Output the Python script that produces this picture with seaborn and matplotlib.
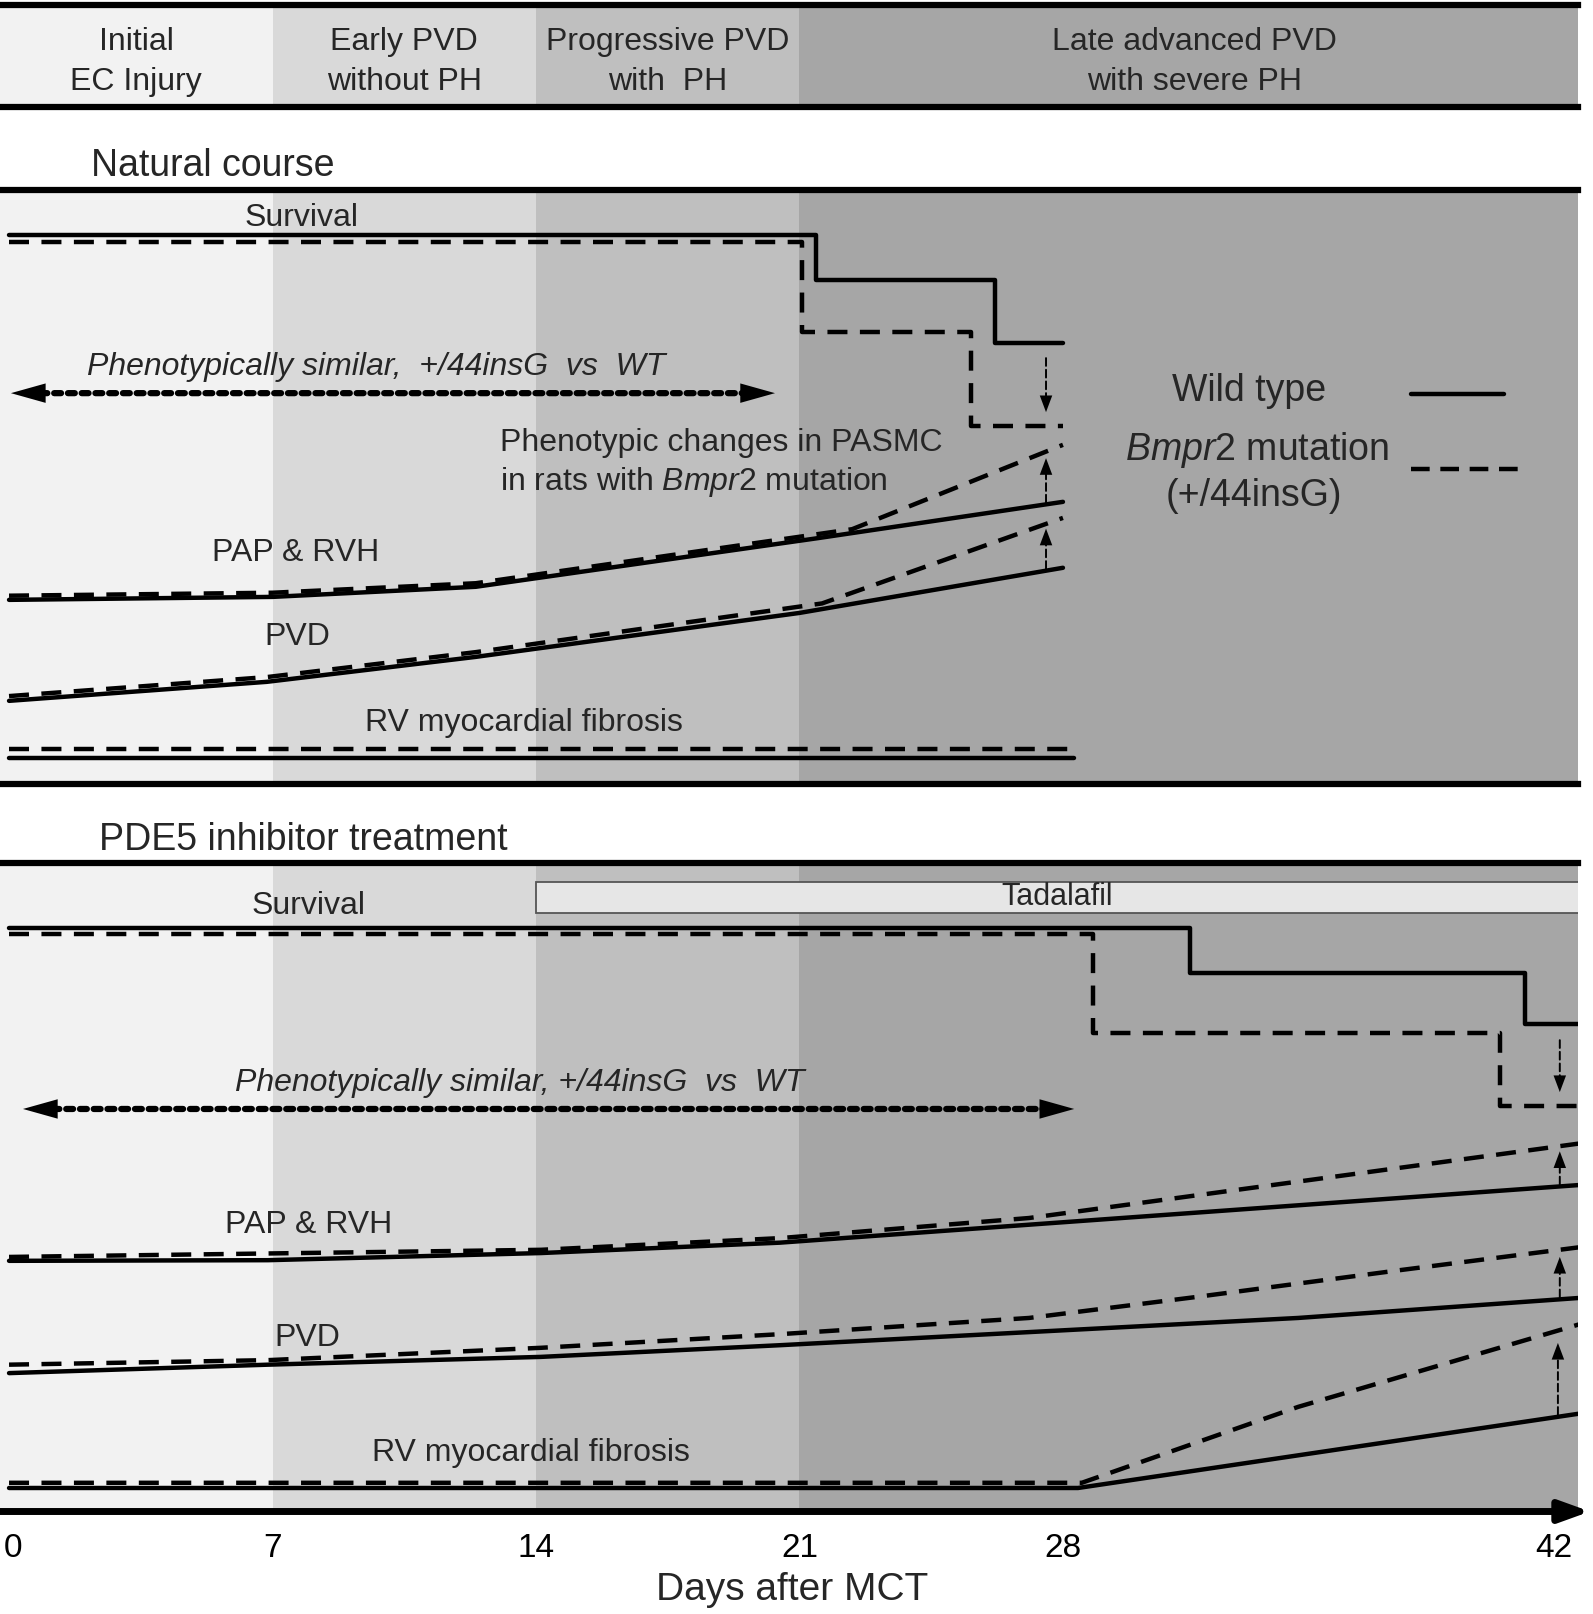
import numpy as np
import pandas as pd
import matplotlib
matplotlib.use("Agg")
import matplotlib.pyplot as plt
import matplotlib.transforms as mtransforms
from matplotlib.lines import Line2D
import seaborn as sns

sns.set_style("white")
plt.rcParams["font.family"] = ["Liberation Sans", "DejaVu Sans"]
plt.rcParams["mathtext.fontset"] = "custom"
plt.rcParams["mathtext.rm"] = "Liberation Sans"
plt.rcParams["mathtext.it"] = "Liberation Sans:italic"

# ---------------- data ----------------
phase_edges = [-0.24, 7, 14, 21, 42]
phase_colors = ["#f2f2f2", "#d9d9d9", "#bfbfbf", "#a6a6a6"]
phase_labels = ["Initial\nEC Injury", "Early PVD\nwithout PH",
                "Progressive PVD\nwith  PH", "Late advanced PVD\nwith severe PH"]
day_ticks = [0, 7, 14, 21, 28, 42]

# Natural course (relative level 0-100)
nat_surv_days_wt = [0, 21.44, 26.2, 28]
nat_surv_wt = [92.4, 84.9, 74.2, 74.2]
nat_surv_days_mut = [0, 21.07, 25.56, 28]
nat_surv_mut = [91.3, 76.1, 60.3, 60.3]

nat_pap_days_wt = [0, 7, 12.4, 21.5, 28]
nat_pap_wt = [31.0, 31.5, 33.2, 41.4, 47.5]
nat_pap_days_mut = [0, 7, 12.4, 22.4, 28]
nat_pap_mut = [31.7, 32.2, 33.8, 42.9, 57.1]

nat_pvd_days_wt = [0, 6.85, 12.4, 21.0, 28]
nat_pvd_wt = [14.0, 17.2, 21.4, 28.8, 36.4]
nat_pvd_days_mut = [0, 6.85, 12.4, 21.6, 28]
nat_pvd_mut = [14.8, 18.0, 22.2, 30.4, 44.8]

nat_fib_days_wt = [0, 28.3]
nat_fib_wt = [4.4, 4.4]
nat_fib_days_mut = [0, 28.3]
nat_fib_mut = [5.9, 5.9]

nat_similar_until = 20.35
nat_gap_day = 27.55

# PDE5 inhibitor treatment
pde_surv_days_wt = [0, 31.38, 40.28, 42]
pde_surv_wt = [90.0, 83.1, 75.2, 75.2]
pde_surv_days_mut = [0, 28.8, 39.61, 42]
pde_surv_mut = [89.1, 73.8, 62.6, 62.6]

pde_pap_days_wt = [0, 6.88, 14.13, 20.48, 42]
pde_pap_wt = [38.7, 38.8, 39.9, 41.5, 50.5]
pde_pap_days_mut = [0, 14.13, 20.48, 27.1, 42]
pde_pap_mut = [39.3, 40.4, 42.2, 45.3, 57.0]

pde_pvd_days_wt = [0, 6.88, 14.13, 20.48, 34.25, 42]
pde_pvd_wt = [21.4, 22.7, 23.9, 25.7, 29.9, 33.1]
pde_pvd_days_mut = [0, 6.88, 14.13, 20.48, 27.1, 31.5, 37.0, 42]
pde_pvd_mut = [22.7, 23.4, 25.3, 27.4, 29.9, 33.1, 37.3, 41.0]

pde_fib_days_wt = [0, 28.4, 42]
pde_fib_wt = [3.7, 3.7, 15.4]
pde_fib_days_mut = [0, 28.5, 34.25, 42]
pde_fib_mut = [4.5, 4.5, 16.2, 29.4]

pde_similar_until = 28.3
pde_gap_day = 41.2
tadalafil_days = (14, 42)

# ---------------- figure ----------------
W, H = 1593, 1614
PX_PER_DAY = 37.64
fig = plt.figure(figsize=(W / 100, H / 100), dpi=100)


def rect(top, bottom, left=0, right=1578):
    return [left / W, 1 - bottom / H, (right - left) / W, (bottom - top) / H]


ax_h = fig.add_axes(rect(5, 107))
ax_n = fig.add_axes(rect(190, 784))
ax_p = fig.add_axes(rect(863, 1512))
ax_t = fig.add_axes(rect(1511, 1512, right=1590))  # time axis

panel_xmax = phase_edges[0] + 1578 / PX_PER_DAY

for ax in (ax_h, ax_n, ax_p):
    ax.set_xlim(phase_edges[0], panel_xmax)
    ax.set_ylim(0, 100)
    for lo, hi, c in zip(phase_edges[:-1], phase_edges[1:], phase_colors):
        ax.axvspan(lo, hi, color=c, lw=0, zorder=0)
    ax.set_yticks([])
    ax.set_xticks([])
    for s in ("left", "right"):
        ax.spines[s].set_visible(False)
    for s in ("top", "bottom"):
        ax.spines[s].set_linewidth(4.5)
        ax.spines[s].set_color("black")
ax_p.spines["bottom"].set_visible(False)

# header text
for lo, hi, lab in zip(phase_edges[:-1], phase_edges[1:], phase_labels):
    ax_h.text((lo + hi) / 2, 44, lab, ha="center", va="center", fontsize=23,
              linespacing=1.42)

fig.text(91 / W, 1 - 166 / H, "Natural course", ha="left", va="center", fontsize=27)
fig.text(99 / W, 1 - 840 / H, "PDE5 inhibitor treatment", ha="left", va="center", fontsize=27)

DASH = (4.5, 2.8)


def pair(ax, d_wt, v_wt, d_mut, v_mut, step=False):
    df = pd.concat([
        pd.DataFrame({"day": d_wt, "level": v_wt, "genotype": "Wild type"}),
        pd.DataFrame({"day": d_mut, "level": v_mut, "genotype": "Bmpr2 +/44insG"}),
    ], ignore_index=True)
    kw = {"drawstyle": "steps-post"} if step else {}
    sns.lineplot(data=df, x="day", y="level", style="genotype",
                 dashes={"Wild type": "", "Bmpr2 +/44insG": DASH},
                 color="black", linewidth=3.2, estimator=None, sort=False,
                 legend=False, ax=ax, zorder=3, **kw)
    ax.set_xlabel("")
    ax.set_ylabel("")


def arrow(ax, x0, y0, x1, y1, ls, lw, hl, hw, both=False):
    ax.annotate("", xy=(x1, y1), xytext=(x0, y0),
                arrowprops=dict(arrowstyle="-", lw=lw, linestyle=ls, color="black",
                                shrinkA=hl * 0.85 if both else 0, shrinkB=hl * 0.85),
                zorder=4)
    style = "<|-|>" if both else "-|>"
    ax.annotate("", xy=(x1, y1), xytext=(x0, y0),
                arrowprops=dict(arrowstyle=f"{style},head_length={hl},head_width={hw}",
                                mutation_scale=1, lw=0, color="black",
                                shrinkA=0, shrinkB=0), zorder=4)


def gap_arrow(ax, day, d_wt, v_wt, d_mut, v_mut, g0, g1, step=False):
    if step:
        a = v_wt[np.searchsorted(d_wt, day, side="right") - 1]
        b = v_mut[np.searchsorted(d_mut, day, side="right") - 1]
    else:
        a = np.interp(day, d_wt, v_wt)
        b = np.interp(day, d_mut, v_mut)
    s = np.sign(b - a)
    arrow(ax, day, a + s * g0, day, b - s * g1, (0, (4, 2)), 1.4, 12, 4.5)


# ---- natural course ----
ax = ax_n
pair(ax, nat_surv_days_wt, nat_surv_wt, nat_surv_days_mut, nat_surv_mut, step=True)
pair(ax, nat_pap_days_wt, nat_pap_wt, nat_pap_days_mut, nat_pap_mut)
pair(ax, nat_pvd_days_wt, nat_pvd_wt, nat_pvd_days_mut, nat_pvd_mut)
pair(ax, nat_fib_days_wt, nat_fib_wt, nat_fib_days_mut, nat_fib_mut)
gap_arrow(ax, nat_gap_day, nat_surv_days_wt, nat_surv_wt, nat_surv_days_mut, nat_surv_mut, 2.5, 2.3, step=True)
gap_arrow(ax, nat_gap_day, nat_pap_days_wt, nat_pap_wt, nat_pap_days_mut, nat_pap_mut, 0.3, 1.1)
gap_arrow(ax, nat_gap_day, nat_pvd_days_wt, nat_pvd_wt, nat_pvd_days_mut, nat_pvd_mut, 0.3, 0.8)
arrow(ax, 0.05, 65.8, nat_similar_until, 65.8, (0, (1.1, 1.1)), 4.5, 25, 7, both=True)

ax.text(7.76, 95.3, "Survival", ha="center", va="center", fontsize=23)
ax.text(9.75, 70.2, "Phenotypically similar,  +/44insG  vs  WT", ha="center", va="center",
        fontsize=23, style="italic")
ax.text(13.04, 57.4, "Phenotypic changes in PASMC", ha="left", va="center", fontsize=23)
ax.text(13.04, 50.8, "in rats with $\\mathit{Bmpr2}$ mutation", ha="left", va="center", fontsize=23)
ax.text(7.62, 38.9, "PAP & RVH", ha="center", va="center", fontsize=23)
ax.text(7.65, 24.75, "PVD", ha="center", va="center", fontsize=23)
ax.text(13.68, 10.3, "RV myocardial fibrosis", ha="center", va="center", fontsize=23)

# legend
ax.text(32.94, 66.2, "Wild type", ha="center", va="center", fontsize=27)
ax.text(33.16, 56.3, "$\\mathit{Bmpr2}$ mutation", ha="center", va="center", fontsize=27)
ax.text(33.08, 48.5, "(+/44insG)", ha="center", va="center", fontsize=27)
ax.add_line(Line2D([37.25, 39.72], [65.66, 65.66], color="black", lw=3.2, zorder=4))
ax.add_line(Line2D([37.25, 40.17], [53.03, 53.03], color="black", lw=3.2,
                   dashes=(4.2, 2.4), zorder=4))

# ---- PDE5 ----
ax = ax_p
ax.axvspan(*tadalafil_days, ymin=0.923, ymax=0.9707, facecolor="#e6e6e6",
           edgecolor="#555555", lw=1.3, zorder=1)
ax.text(27.84, 94.8, "Tadalafil", ha="center", va="center", fontsize=22)
pair(ax, pde_surv_days_wt, pde_surv_wt, pde_surv_days_mut, pde_surv_mut, step=True)
pair(ax, pde_pap_days_wt, pde_pap_wt, pde_pap_days_mut, pde_pap_mut)
pair(ax, pde_pvd_days_wt, pde_pvd_wt, pde_pvd_days_mut, pde_pvd_mut)
pair(ax, pde_fib_days_wt, pde_fib_wt, pde_fib_days_mut, pde_fib_mut)
gap_arrow(ax, pde_gap_day, pde_surv_days_wt, pde_surv_wt, pde_surv_days_mut, pde_surv_mut, 2.5, 2.1, step=True)
gap_arrow(ax, pde_gap_day, pde_pap_days_wt, pde_pap_wt, pde_pap_days_mut, pde_pap_mut, 0.3, 0.8)
gap_arrow(ax, pde_gap_day, pde_pvd_days_wt, pde_pvd_wt, pde_pvd_days_mut, pde_pvd_mut, 0.3, 1.1)
gap_arrow(ax, pde_gap_day - 0.05, pde_fib_days_wt, pde_fib_wt, pde_fib_days_mut, pde_fib_mut, 0.3, 1.9)
arrow(ax, 0.37, 62.1, pde_similar_until, 62.1, (0, (1.1, 1.1)), 4.5, 25, 7, both=True)

ax.text(7.97, 93.4, "Survival", ha="center", va="center", fontsize=23)
ax.text(13.58, 66.1, "Phenotypically similar, +/44insG  vs  WT", ha="center", va="center",
        fontsize=23, style="italic")
ax.text(7.97, 44.2, "PAP & RVH", ha="center", va="center", fontsize=23)
ax.text(7.92, 26.8, "PVD", ha="center", va="center", fontsize=23)
ax.text(13.87, 9.1, "RV myocardial fibrosis", ha="center", va="center", fontsize=23)

# ---- time axis ----
ax = ax_t
ax.set_xlim(phase_edges[0], phase_edges[-1])
ax.set_ylim(0, 1)
ax.set_yticks([])
for s in ("left", "right", "top", "bottom"):
    ax.spines[s].set_visible(False)
ax.patch.set_alpha(0)
ax.annotate("", xy=(1, 0.5), xycoords="axes fraction", xytext=(0, 0.5), textcoords="axes fraction",
            arrowprops=dict(arrowstyle="-|>,head_length=18,head_width=6.5", mutation_scale=1,
                            lw=5, color="black", shrinkA=0, shrinkB=0), zorder=5,
            annotation_clip=False)
ax.set_xticks(day_ticks)
ax.set_xticklabels([str(d) for d in day_ticks])
ax.tick_params(axis="x", length=0, pad=15, labelsize=24, colors="black")
labels = ax.get_xticklabels()
labels[0].set_transform(labels[0].get_transform() +
                        mtransforms.ScaledTranslation(0.04, 0, fig.dpi_scale_trans))
labels[-1].set_transform(labels[-1].get_transform() +
                         mtransforms.ScaledTranslation(-0.36, 0, fig.dpi_scale_trans))
fig.text(792 / W, 1 - 1590 / H, "Days after MCT", ha="center", va="center", fontsize=28)

fig.savefig("out.png", dpi=100, facecolor="white")
